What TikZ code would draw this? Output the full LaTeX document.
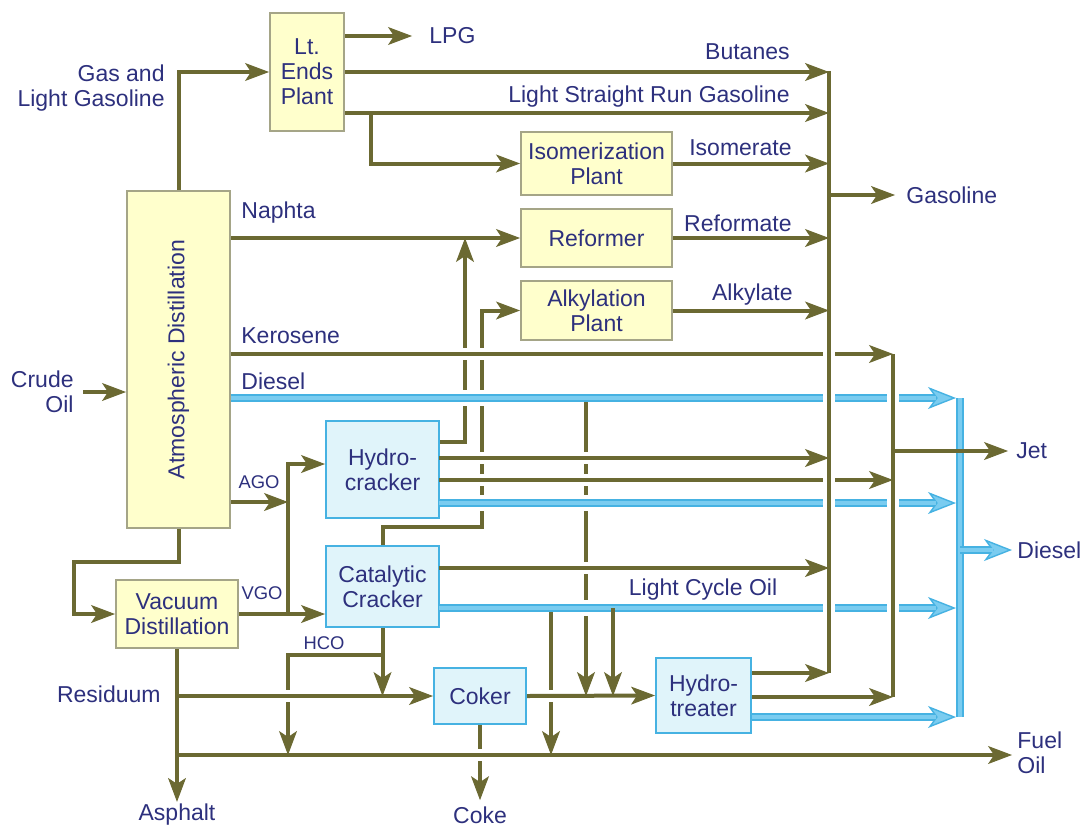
\documentclass[tikz,border=0pt]{standalone}
\usepackage{fontspec}
\setmainfont{Liberation Sans}
\usetikzlibrary{arrows.meta}
\definecolor{flowc}{RGB}{107,105,50}
\definecolor{inkc}{RGB}{45,48,125}
\definecolor{yelc}{RGB}{255,255,204}
\definecolor{yeld}{RGB}{165,165,135}
\definecolor{bluf}{RGB}{224,244,250}
\definecolor{bluc}{RGB}{70,178,226}
\definecolor{blul}{RGB}{122,204,240}
\newcommand{\gapat}[2][3pt]{\fill[white] (#2) +(-#1,-#1) rectangle +(#1,#1);}
\begin{document}
\begin{tikzpicture}[x=0.5pt, y=-0.5pt,
  font=\fontsize{11.5}{12.5}\selectfont, text=inkc,
  flow/.style={draw=flowc, line width=2pt},
  flowto/.style={flow, -{Stealth[length=12pt, width=9pt, inset=3pt, line width=0.5pt]}},
  dsl/.style={draw=bluc, line width=3.8pt, postaction={draw=blul, line width=2pt}},
  dslto/.style={draw=bluc, line width=3.8pt, shorten >=2pt,
    -{Stealth[length=14pt, width=11pt, inset=4pt, line width=0.7pt, fill=blul]},
    postaction={draw=blul, line width=2pt, -, shorten >=12pt}},
  ybox/.style={draw=yeld, fill=yelc, line width=1pt, align=center, inner sep=0pt},
  bbox/.style={ybox, draw=bluc, fill=bluf},
  lbl/.style={inner sep=0pt},
  flowtag/.style={lbl, font=\fontsize{9.2}{11}\selectfont}]
\useasboundingbox (0,0) rectangle (1090,829);

\node[ybox, minimum width=37pt, minimum height=59pt] (lte) at (307,72) {Lt.\\Ends\\Plant};
\node[ybox, minimum width=75.5pt, minimum height=31.5pt] (iso) at (596.5,163.5) {Isomerization\\Plant};
\node[ybox, minimum width=75.5pt, minimum height=29pt] (ref) at (596.5,238) {Reformer};
\node[ybox, minimum width=75.5pt, minimum height=29.5pt] (alk) at (596.5,310.5) {Alkylation\\Plant};
\node[ybox, minimum width=51.5pt, minimum height=168.5pt] (atm) at (178.5,359.5) {};
\node[rotate=90] (atmT) at (atm) {Atmospheric Distillation};
\node[bbox, minimum width=56.5pt, minimum height=48.5pt] (hc) at (382.5,469.5) {Hydro-\\cracker};
\node[bbox, minimum width=56.5pt, minimum height=40.5pt] (cc) at (382.5,586.5) {Catalytic\\Cracker};
\node[ybox, minimum width=61pt, minimum height=34pt] (vac) at (177,614) {Vacuum\\Distillation};
\node[bbox, minimum width=46pt, minimum height=28pt] (cok) at (480,696) {Coker};
\node[bbox, minimum width=47.5pt, minimum height=37.5pt] (hyt) at (703.5,695.5) {Hydro-\\treater};

\node[lbl, anchor=east, align=right] (crT) at (74,392) {Crude\\Oil};
\node[lbl, anchor=east, align=right] (gasT) at (165,88) {Gas and\\Light Gasoline};
\node[lbl, anchor=west] (lpg) at (429,36) {LPG};
\node[lbl, anchor=east] (butT) at (790,52) {Butanes};
\node[lbl, anchor=east] (lsrT) at (790,97) {Light Straight Run Gasoline};
\node[lbl, anchor=east] (isoT) at (792,148) {Isomerate};
\node[lbl, anchor=east] (refT) at (792,223) {Reformate};
\node[lbl, anchor=east] (alkT) at (793,295) {Alkylate};
\node[lbl, anchor=west] (gaso) at (906,195) {Gasoline};
\node[lbl, anchor=west] (napT) at (241,213) {Naphta};
\node[lbl, anchor=west] (kerT) at (241,336) {Kerosene};
\node[lbl, anchor=west] (dslT) at (241,381) {Diesel};
\node[flowtag] (agoT) at (259,482) {AGO};
\node[flowtag] (vgoT) at (262,593) {VGO};
\node[flowtag] (hcoT) at (324,643) {HCO};
\node[lbl] (lcoT) at (703,590) {Light Cycle Oil};
\node[lbl, anchor=east] (resT) at (161,694) {Residuum};
\node[lbl] (asph) at (177,815) {Asphalt};
\node[lbl] (coke) at (480,815) {Coke};
\node[lbl, anchor=west] (jet) at (1016,451) {Jet};
\node[lbl, anchor=west] (dsl2) at (1017,550) {Diesel};
\node[lbl, anchor=west, align=left] (fuel) at (1017,753) {Fuel\\Oil};

\coordinate (crude) at (83,392);
\coordinate (gtop) at (829,71);
\coordinate (gbot) at (829,673);
\coordinate (jtop) at (893,354);
\coordinate (jbot) at (893,697);
\coordinate (dtop) at (960,398);
\coordinate (dbot) at (960,717);
\coordinate (lsrg) at (829,113);
\coordinate (isoBr) at (371,113);
\coordinate (gasJ) at (829,195);
\coordinate (hcN) at (465,442);
\coordinate (ccA) at (482,527);
\coordinate (agoJ) at (288,502);
\coordinate (vgoJ) at (288,614);
\coordinate (hcIn) at (288,464);
\coordinate (hcA) at (439,458);
\coordinate (hcB) at (439,480);
\coordinate (hcC) at (439,503);
\coordinate (ccG) at (439,568);
\coordinate (lco) at (439,608);
\coordinate (avL) at (74,562);
\coordinate (resJ) at (177,696);
\coordinate (fuelJ) at (177,755);
\coordinate (hcoJ) at (382.5,655);
\coordinate (hcoL) at (288,655);
\coordinate (v586) at (586,398);
\coordinate (v613) at (613,608);
\coordinate (v551) at (551,608);
\coordinate (jetJ) at (893,451);
\coordinate (dslJ) at (960,550);

\draw[flowto] (hcN -| hc.east) -- (hcN) -- (hcN |- ref.west);
\draw[flowto] (cc.north) |- (ccA) |- (alk.west);
\draw[flowto] (v586) -- (v586 |- cok.east);
\draw[flowto] (hcoJ) -- (hcoL) -- (hcoL |- fuelJ);
\draw[flowto] (v551) -- (v551 |- fuelJ);
\draw[flowto, shorten >=3pt] (cok.south) -- (coke.north);

\foreach \v in {hcN,ccA} {\gapat{\v |- jtop} \gapat[4pt]{\v |- dtop}}
\foreach \h in {hcA,hcB} {\gapat{ccA |- \h} \gapat{v586 |- \h}}
\gapat[4pt]{ccA |- hcC} \gapat[4pt]{v586 |- hcC}
\gapat{v586 |- ccG} \gapat[4pt]{v586 |- lco}
\gapat{hcoL |- resJ} \gapat{v551 |- cok.east} \gapat{cok.south |- fuelJ}

\draw[flowto] (crude) -- (crude -| atm.west);
\draw[flowto] (atm.north) |- (lte.west);
\draw[flowto, shorten >=8.5pt] (lpg.west -| lte.east) -- (lpg.west);
\draw[flowto] (lte.east) -- (lte.east -| gtop);
\draw[flowto] (lsrg -| lte.east) -- (lsrg);
\draw[flowto] (isoBr) |- (iso.west);
\draw[flowto] (iso.east) -- (iso.east -| gtop);
\draw[flowto] (ref.west -| atm.east) -- (ref.west);
\draw[flowto] (ref.east) -- (ref.east -| gtop);
\draw[flowto] (alk.east) -- (alk.east -| gtop);
\draw[flowto] (jtop -| atm.east) -- (jtop);
\draw[dslto] (dtop -| atm.east) -- (dtop);
\draw[flowto] (agoJ -| atm.east) -- (agoJ);
\draw[flowto] (vgoJ) -- (hcIn) -- (hcIn -| hc.west);
\draw[flowto] (vac.east) -- (vac.east -| cc.west);
\draw[flowto] (hcA) -- (hcA -| gtop);
\draw[flowto] (hcB) -- (hcB -| jtop);
\draw[dslto] (hcC) -- (hcC -| dtop);
\draw[flowto] (ccG) -- (ccG -| gtop);
\draw[dslto] (lco) -- (lco -| dtop);
\draw[flowto] (atm.south) |- (avL) |- (vac.west);
\draw[flowto] (resJ) -- (cok.west);
\draw[flowto, shorten >=2.5pt] (fuelJ) -- (fuelJ -| fuel.west);
\draw[flowto, shorten >=1pt] (vac.south) -- (asph.north);
\draw[flowto] (cc.south) -- (cc.south |- cok.west);
\draw[flowto] (cok.east) -- (hyt.west);
\draw[flowto] (v613) -- (v613 |- cok.east);
\draw[flowto] (gbot -| hyt.east) -- (gbot);
\draw[flowto] (jbot -| hyt.east) -- (jbot);
\draw[dslto] (dbot -| hyt.east) -- (dbot);

\foreach \h in {jtop,hcB,dtop,hcC,lco} \gapat{gtop |- \h};
\foreach \h in {dtop,hcC,lco} \gapat{jtop |- \h};

\draw[flow] (gtop) -- (gbot);
\draw[flow] (jtop) -- (jbot);
\draw[dsl] (dtop) -- (dbot);
\draw[flowto, shorten >=5.5pt] (gasJ) -- (gaso.west);
\draw[flowto, shorten >=4pt] (jetJ) -- (jet.west);
\draw[dslto, shorten >=2.5pt] (dslJ) -- (dsl2.west);
\end{tikzpicture}
\end{document}
